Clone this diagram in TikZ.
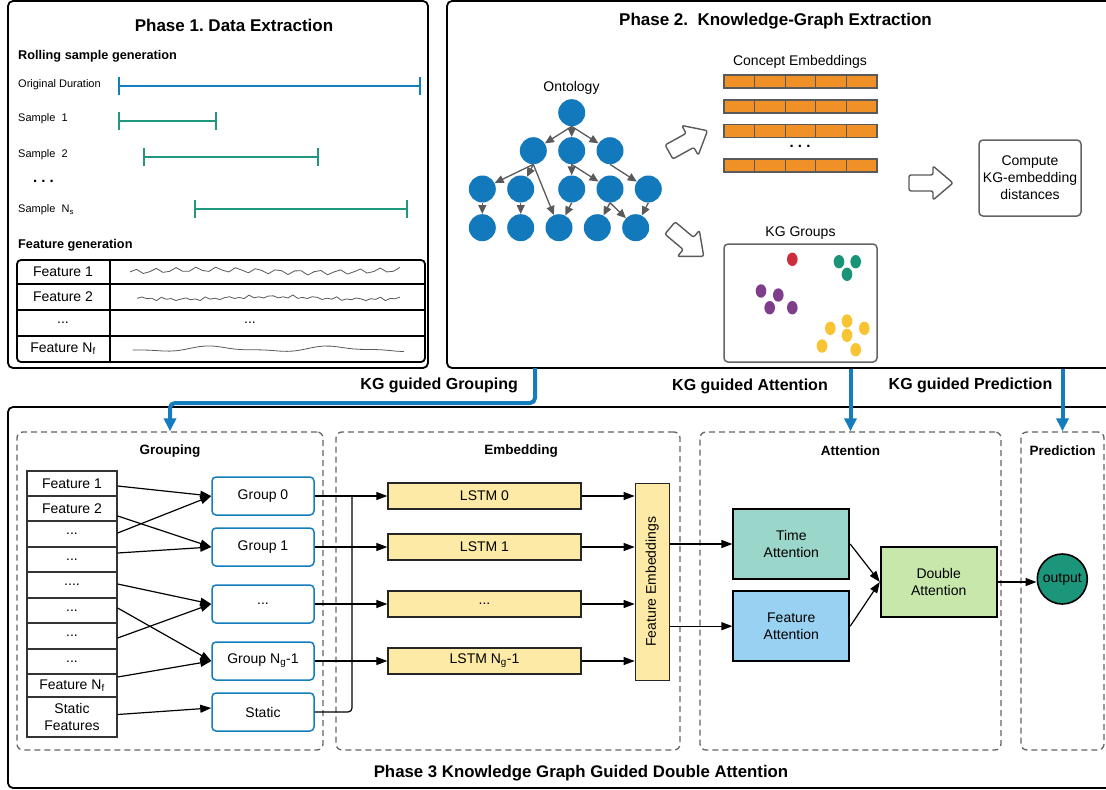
\documentclass[tikz,border=0pt]{standalone}
\usepackage{fontspec}
\setmainfont{Liberation Sans}
\usetikzlibrary{arrows.meta,calc}

\definecolor{kgblue}{RGB}{20,125,190}
\definecolor{samplegreen}{RGB}{32,152,125}
\definecolor{ontoblue}{RGB}{19,121,189}
\definecolor{embedorange}{RGB}{240,145,40}
\definecolor{edgegray}{RGB}{90,90,90}
\definecolor{boxgray}{RGB}{100,100,100}
\definecolor{lstmyellow}{RGB}{253,234,166}
\definecolor{timeteal}{RGB}{155,214,202}
\definecolor{featblue}{RGB}{153,209,242}
\definecolor{dblgreen}{RGB}{199,232,170}
\definecolor{outteal}{RGB}{27,150,122}
\definecolor{grpred}{RGB}{206,45,60}
\definecolor{grpteal}{RGB}{26,148,118}
\definecolor{grppurple}{RGB}{126,62,140}
\definecolor{grpyellow}{RGB}{248,196,52}

\frenchspacing
\begin{document}
\begin{tikzpicture}[x=1pt,y=-1pt,
  txt/.style={inner sep=0pt, font=\fontsize{14}{17}\selectfont},
  lbl/.style={inner sep=0pt, anchor=west, font=\fontsize{11}{13}\selectfont},
  subhead/.style={inner sep=0pt, anchor=west, font=\fontsize{12.7}{15}\selectfont\bfseries},
  phasetitle/.style={inner sep=0pt, font=\fontsize{17}{20}\selectfont\bfseries},
  secttitle/.style={inner sep=0pt, font=\fontsize{13.5}{16}\selectfont\bfseries},
  kglabel/.style={inner sep=0pt, font=\fontsize{16}{19}\selectfont\bfseries},
  bigtitle/.style={inner sep=0pt, font=\fontsize{16.8}{19}\selectfont\bfseries},
  dotrow/.style={inner sep=0pt, font=\fontsize{15}{17}\selectfont\bfseries},
  phasebox/.style={draw=black, line width=1.8pt, rounded corners=5pt, inner sep=0pt},
  dashbox/.style={draw=boxgray, line width=1.3pt, dash pattern=on 6pt off 4pt, rounded corners=6pt, inner sep=0pt},
  durline/.style={line width=2pt, {Bar[width=18pt]}-{Bar[width=18pt]}},
  wiggle/.style={draw=black!65, line width=0.8pt, line join=round},
  onto/.style={circle, fill=ontoblue, minimum size=27pt, inner sep=0pt},
  ontoedge/.style={draw=edgegray, line width=1.3pt, -{Triangle[width=8pt,length=9pt]}},
  embbar/.style={fill=embedorange, draw=edgegray, line width=1.2pt},
  graybox/.style={draw=boxgray, line width=1.5pt, rounded corners=4pt, inner sep=0pt},
  hollow/.style={draw=edgegray, line width=1.4pt, fill=white, rounded corners=2pt, line join=round},
  hollowarrow/.pic={\draw[hollow] (0,-8) -- (24,-8) -- (24,-17) -- (44,0) -- (24,17) -- (24,8) -- (0,8) -- cycle;},
  kgarrow/.style={draw=kgblue, line width=4pt, rounded corners=5pt, -{Triangle[width=12pt,length=13pt]}},
  ftcell/.style={txt, draw=black!80, line width=1.3pt, minimum width=90pt, align=center},
  grpnode/.style={txt, draw=kgblue, line width=1.5pt, rounded corners=4pt, minimum width=102pt, minimum height=38pt},
  lstmnode/.style={txt, draw=black!85, fill=lstmyellow, line width=1.3pt, minimum width=193pt, minimum height=26pt},
  attnode/.style={txt, draw=black, line width=1.8pt, minimum width=116pt, minimum height=70pt, align=center},
  conn/.style={draw=black, line width=1.2pt, -{Triangle[width=8pt,length=11pt]}},
  plain/.style={draw=black, line width=1.2pt}
]
\useasboundingbox (0,0) rectangle (1106,790);
\clip (0,0) rectangle (1106,790);
\fill[white] (0,0) rectangle (1106,790);

% ---------------- Phase 1 ----------------
\node[phasebox, minimum width=420pt, minimum height=367pt] (p1) at (218,184.5) {};
\node[phasetitle] (p1t) at (234,25) {Phase 1. Data Extraction};
\node[subhead] (rsg) at (18,56) {Rolling sample generation};

\node[lbl] (od) at (18,84.5) {Original Duration};
\node[lbl] (s1) at (18,119) {Sample\ \ 1};
\node[lbl] (s2) at (18,155) {Sample\ \ 2};
\node[dotrow] (sdots) at (43.5,181) {. . .};
\node[lbl] (sn) at (18,210) {Sample\ \ N\textsubscript{s}};

\draw[durline, kgblue] (118,86) -- (421,86);
\draw[durline, samplegreen] (118,121) -- (217,121);
\draw[durline, samplegreen] (143,157) -- (319,157);
\draw[durline, samplegreen] (194,209) -- (408,209);

\node[subhead] (fg) at (18,245) {Feature generation};

% feature table
\draw[black, line width=1.8pt, rounded corners=4pt] (17,260) rectangle (425,362);
\draw[black, line width=1.5pt] (17,284) -- (425,284) (17,310) -- (425,310) (17,336) -- (425,336);
\draw[black, line width=1.5pt] (110,260) -- (110,362);
\node[txt] (t1) at (63,272) {Feature 1};
\node[txt] (t2) at (63,297) {Feature 2};
\node[txt] (t3) at (63,323) {...};
\node[txt] (t3b) at (250,323) {...};
\node[txt] (t4) at (63,349) {Feature N\textsubscript{f}};

\draw[wiggle] plot[domain=0:270, samples=42] ({130+\x}, {271 + 2.6*sin(\x*37) + 1.4*sin(\x*53+40)});
\draw[wiggle] plot[domain=0:263, samples=55] ({137+\x}, {298 + 1.2*sin(\x*41) + 0.9*sin(\x*57+20) + 1.2*sin(\x*2)});
\draw[wiggle] plot[domain=0:271, samples=38] ({133+\x}, {349 + 2.2*sin(\x*3+30) + 1.0*sin(\x*43)});

% ---------------- Phase 2 ----------------
\node[phasebox, minimum width=669pt, minimum height=367pt] (p2) at (781.5,184.5) {};
\node[phasetitle] (p2t) at (775.5,21) {Phase 2.\ \ Knowledge-Graph Extraction};

\node[txt] (ontt) at (571.5,88) {Ontology};
\node[onto] (r)  at (571.7,112.7) {};
\node[onto] (a1) at (533.3,150.7) {};
\node[onto] (a2) at (571.7,150.7) {};
\node[onto] (a3) at (610,150.7) {};
\node[onto] (b1) at (482.3,189) {};
\node[onto] (b2) at (520.7,189) {};
\node[onto] (b3) at (571.7,189) {};
\node[onto] (b4) at (610,189) {};
\node[onto] (b5) at (648.3,189) {};
\node[onto] (c1) at (482.3,227.7) {};
\node[onto] (c2) at (520.7,227.7) {};
\node[onto] (c3) at (559,227.7) {};
\node[onto] (c4) at (597.3,227.7) {};
\node[onto] (c5) at (635.7,227.7) {};

\draw[ontoedge] (r.south) -- (a1);
\draw[ontoedge] (r.south) -- (a2);
\draw[ontoedge] (r.south) -- (a3);
\draw[ontoedge] (a1.south) -- (b1);
\draw[ontoedge] (a1.south) -- (b2);
\draw[ontoedge] (a1.south) -- (c3);
\draw[ontoedge] (a2.south) -- (b3);
\draw[ontoedge] (a2.south) -- (b4);
\draw[ontoedge] (a3.south) -- (b5);
\draw[ontoedge] (b1) -- (c1);
\draw[ontoedge] (b2) -- (c2);
\draw[ontoedge] (b3.south) -- (c3);
\draw[ontoedge] (b4.south) -- (c4);
\draw[ontoedge] (b4.south) -- (c5);
\draw[ontoedge] (b5.south) -- (c5);

% block arrows
\pic[rotate=29] at (669,152) {hollowarrow};
\pic[rotate=-40] at (670,228) {hollowarrow};
\pic at (909,183) {hollowarrow};

% concept embeddings
\node[txt] (cet) at (800,62) {Concept Embeddings};
\foreach \yy in {81.5,106.5,131,165.5} {
  \draw[embbar] (724,\yy-6.5) rectangle (877,\yy+6.5);
  \foreach \k in {1,...,4} \draw[edgegray, line width=1.2pt] (724+30.6*\k,\yy-6.5) -- ++(0,13);
}
\node[dotrow] (cedots) at (800,146) {. . .};

% compute box
\node[graybox, txt, minimum width=102pt, minimum height=76pt, align=center] (cmp) at (1030,178) {Compute\\KG-embedding\\distances};

% KG groups
\node[txt] (kgt) at (800.5,233.5) {KG Groups};
\node[graybox, minimum width=153pt, minimum height=118pt] (kgbox) at (800.5,303) {};
\fill[grpred] (792.3,259.3) ellipse [x radius=5.3pt, y radius=6.7pt];
\foreach \p in {(839,261.7),(855.7,261.7),(847,274.3)} \fill[grpteal] \p ellipse [x radius=5.3pt, y radius=6.7pt];
\foreach \p in {(761,291),(778.3,295),(769.7,307.7),(792.3,307.7)} \fill[grppurple] \p ellipse [x radius=5.3pt, y radius=6.7pt];
\foreach \p in {(847,321),(830.3,328.3),(864.3,328.3),(847,335.3),(822,346),(855.7,349.7)} \fill[grpyellow] \p ellipse [x radius=5.3pt, y radius=6.7pt];

% ---------------- Phase 3 ----------------
\node[phasebox, minimum width=1108pt, minimum height=381pt] (p3) at (562,597.5) {};
\node[bigtitle] (p3t) at (581,773) {Phase 3 Knowledge Graph Guided Double Attention};

\node[dashbox, minimum width=306pt, minimum height=318pt] (grpbox) at (170,591) {};
\node[dashbox, minimum width=344pt, minimum height=318pt] (embbox) at (508,591) {};
\node[dashbox, minimum width=301pt, minimum height=318pt] (attbox) at (850.5,591) {};
\node[dashbox, minimum width=83pt, minimum height=318pt] (prdbox) at (1062.5,591) {};

\node[secttitle] (grpt) at (170,451) {Grouping};
\node[secttitle] (embt) at (521,451) {Embedding};
\node[secttitle] (attt) at (850.5,451) {Attention};
\node[secttitle] (prdt) at (1062.5,451) {Prediction};

% KG guidance arrows
\coordinate (kgA) at (535,368);
\coordinate (kgTurn) at (535,403);
\draw[kgarrow] (kgA) -- (kgTurn) -| (grpbox.north);
\draw[kgarrow] (p2.south -| attbox.north) -- (attbox.north);
\draw[kgarrow] (p2.south -| prdbox.north) -- (prdbox.north);
\node[kglabel, anchor=east] (kg1) at (518,385) {KG guided Grouping};
\node[kglabel] (kg2) at (750,386) {KG guided Attention};
\node[kglabel] (kg3) at (970.5,385) {KG guided Prediction};

% feature list
\node[ftcell, minimum height=25pt] (f1) at (72,483.5) {Feature 1};
\node[ftcell, minimum height=25pt] (f2) at (72,508.5) {Feature 2};
\node[ftcell, minimum height=26pt] (f3) at (72,534) {...};
\node[ftcell, minimum height=25pt] (f4) at (72,559.5) {...};
\node[ftcell, minimum height=26pt] (f5) at (72,585) {....};
\node[ftcell, minimum height=25pt] (f6) at (72,610.5) {...};
\node[ftcell, minimum height=26pt] (f7) at (72,636) {...};
\node[ftcell, minimum height=25pt] (f8) at (72,661.5) {...};
\node[ftcell, minimum height=23pt] (fn) at (72,685.5) {Feature N\textsubscript{f}};
\node[ftcell, minimum height=40pt] (fs) at (72,717) {Static\\Features};

% groups
\node[grpnode] (g0) at (263,496) {Group 0};
\node[grpnode] (g1) at (263,547) {Group 1};
\node[grpnode] (gd) at (263,604) {...};
\node[grpnode] (gn) at (263,661) {Group N\textsubscript{g}-1};
\node[grpnode] (gs) at (263,712) {Static};

\draw[conn] ([yshift=-2.5pt]f1.east) -- (g0.west);
\draw[conn] ([yshift=-7.5pt]f2.east) -- (g1.west);
\draw[conn] ([yshift=1pt]f3.east) -- (g0.west);
\draw[conn] ([yshift=6.5pt]f4.east) -- (g1.west);
\draw[conn] ([yshift=1pt]f5.east) -- (gd.west);
\draw[conn] ([yshift=2.5pt]f6.east) -- (gn.west);
\draw[conn] ([yshift=-2pt]f7.east) -- (gd.west);
\draw[conn] ([yshift=8.5pt]fn.east) -- (gn.west);
\draw[conn] ([yshift=2.5pt]fs.east) -- ([yshift=4pt]gs.west);

% LSTMs
\node[lstmnode] (l0) at (484.5,496) {LSTM 0};
\node[lstmnode] (l1) at (484.5,547) {LSTM 1};
\node[lstmnode] (ld) at (484.5,604) {...};
\node[lstmnode] (ln) at (484.5,661) {LSTM N\textsubscript{g}-1};

\draw[conn] (g0.east) -- (l0.west);
\draw[conn] (g1.east) -- (l1.west);
\draw[conn] (gd.east) -- (ld.west);
\draw[conn] (gn.east) -- (ln.west);
\coordinate (bus) at (352,496);
\draw[plain, rounded corners=4pt] (gs.east) -| (bus);

% rotated block: its north anchor faces left, its south anchor faces right
\node[txt, draw=black!85, fill=lstmyellow, line width=1.3pt, minimum width=197pt, minimum height=34pt, rotate=90] (fe) at (652.3,581.7) {Feature Embeddings};

\draw[conn] (l0.east) -- (l0.east -| fe.north);
\draw[conn] (l1.east) -- (l1.east -| fe.north);
\draw[conn] (ld.east) -- (ld.east -| fe.north);
\draw[conn] (ln.east) -- (ln.east -| fe.north);

% attention
\node[attnode, fill=timeteal] (ta) at (791.3,544) {Time\\Attention};
\node[attnode, fill=featblue] (fa) at (791.3,626.2) {Feature\\Attention};
\node[attnode, fill=dblgreen] (da) at (938.7,582) {Double\\Attention};
\node[txt, circle, draw=black, fill=outteal, line width=1.6pt, minimum size=50pt] (out) at (1062.3,579) {output};

\draw[conn] (fe.south |- ta.west) -- (ta.west);
\draw[conn] (fe.south |- fa.west) -- (fa.west);
\draw[conn] (ta.east) -- (da.west);
\draw[conn] (fa.east) -- (da.west);
\draw[conn] (da.east) -- (da.east -| out.west);
\end{tikzpicture}
\end{document}
